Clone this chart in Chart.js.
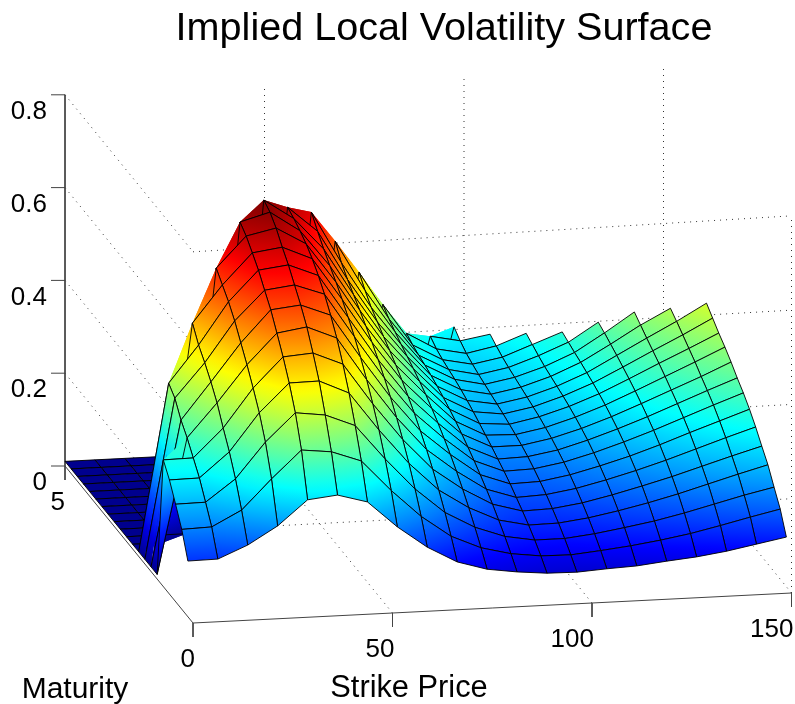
<!DOCTYPE html>
<html>
<head>
<meta charset="utf-8">
<title>Implied Local Volatility Surface</title>
<script src="https://cdn.jsdelivr.net/npm/chart.js@4/dist/chart.umd.min.js"></script>
<style>
  html, body { margin: 0; padding: 0; background: #fff; }
  canvas { display: block; }
</style>
</head>
<body>
<canvas id="surface" width="795" height="704"></canvas>
<script>
const strikes = [0, 7.5, 15, 22.5, 30, 37.5, 45, 52.5, 60, 67.5, 75, 82.5, 90, 97.5, 105, 112.5, 120, 127.5, 135, 142.5, 150];
const maturities = [0.2, 0.44, 0.68, 0.92, 1.16, 1.4, 1.64, 1.88, 2.12, 2.36, 2.6, 2.84, 3.08, 3.32, 3.56, 3.8, 4.04, 4.28, 4.52, 4.76, 5];

// one list per strike, front row (short maturity) first, null = no quote
const vol0 = [.120, .172, .210, .246, .273, .01, .01, .01, .01, .01, .01, .01, .01, .01, .01, .01, .01, .01, .01, .01, .01];
const vol1 = [.121, .174, .211, .247, .274, .301, .323, .354, .370, .01, .01, .01, .01, .01, .01, .01, .01, .01, .01, .01, .01];
const vol2 = [.148, .207, .258, .300, .335, .373, .402, .427, .449, .480, .01, .01, .01, .01, .01, .01, .01, .01, .01, .01, .01];
const vol3 = [.186, .271, .334, .381, .418, .452, .483, .514, .539, .559, .579, .01, .01, .01, .01, .01, .01, .01, .01, .01, .01];
const vol4 = [.239, .330, .394, .442, .482, .517, .551, .577, .604, .625, .645, .659, .01, .01, .01, .01, .01, .01, .01, .01, .01];
const vol5 = [.246, .323, .386, .443, .487, .527, .558, .585, .612, .634, .659, .677, .687, .01, .01, .01, .01, .01, .01, .01, .01];
const vol6 = [.228, .300, .360, .414, .460, .500, .533, .562, .586, .606, .622, .634, .644, .652, .01, .01, .01, .01, .01, .01, .01];
const vol7 = [.171, .233, .285, .331, .371, .407, .439, .467, .492, .515, .536, .555, .575, .597, .622, .01, .01, .01, .01, .01, .01];
const vol8 = [.124, .174, .217, .256, .291, .322, .350, .375, .398, .419, .438, .456, .473, .490, .510, .540, .01, .01, .01, .01, .01];
const vol9 = [.089, .128, .163, .195, .224, .250, .274, .296, .316, .334, .351, .366, .380, .395, .410, .430, .454, .01, .01, .01, .01];
const vol10 = [.070, .100, .128, .154, .178, .200, .220, .238, .255, .270, .284, .296, .307, .317, .327, .338, .350, .365, .01, .01, .01];
const vol11 = [.061, .084, .105, .124, .142, .158, .173, .187, .200, .212, .223, .233, .242, .250, .257, .263, .268, .274, .283, .01, .01];
const vol12 = [.055, .076, .094, .110, .124, .137, .150, .161, .171, .181, .190, .199, .208, .216, .223, .229, .234, .239, .246, .257, .01];
const vol13 = [.054, .075, .094, .111, .126, .140, .152, .163, .173, .181, .188, .194, .200, .205, .210, .215, .220, .226, .233, .244, .258];
const vol14 = [.058, .081, .101, .119, .135, .150, .163, .174, .184, .193, .200, .207, .212, .217, .222, .227, .232, .238, .246, .255, null];
const vol15 = [.061, .088, .111, .131, .149, .165, .179, .191, .202, .211, .219, .226, .232, .237, .242, .247, .254, .262, .270, null, null];
const vol16 = [.068, .097, .122, .145, .165, .182, .197, .211, .223, .233, .242, .250, .257, .263, .269, .274, .280, .286, null, null, null];
const vol17 = [.074, .108, .136, .161, .182, .201, .218, .233, .246, .258, .269, .279, .288, .297, .305, .313, .320, null, null, null, null];
const vol18 = [.083, .122, .152, .179, .201, .222, .241, .257, .271, .284, .297, .309, .320, .331, .343, .355, null, null, null, null, null];
const vol19 = [.095, .137, .168, .197, .220, .243, .263, .281, .296, .310, .325, .338, .351, .364, .376, null, null, null, null, null, null];
const vol20 = [.107, .151, .182, .214, .238, .263, .285, .304, .320, .338, .354, .368, .384, .400, null, null, null, null, null, null, null];
const volByStrike = [vol0, vol1, vol2, vol3, vol4, vol5, vol6, vol7, vol8, vol9, vol10, vol11, vol12, vol13, vol14, vol15, vol16, vol17, vol18, vol19, vol20];

const strikeTicks = [0, 50, 100, 150];
const volTicks = [0.8, 0.6, 0.4, 0.2, 0];
const maxMaturity = 5;
const volTop = 0.8;
const floorVol = 0.01;
const colorMax = 0.687;

// view of the box: strike runs right, maturity runs back and left, vol runs up
function project(strike, maturity, vol) {
  const back = maxMaturity - maturity;
  return {
    x: 65 + 3.99 * strike + 25.6 * back,
    y: 466 - 0.2 * strike + 31.4 * back - 464 * vol,
  };
}

function jet(t) {
  t = Math.max(0, Math.min(1, t));
  const ramp = c => Math.round(255 * Math.max(0, Math.min(1, 1.5 - Math.abs(4 * t - c))));
  return `rgb(${ramp(3)},${ramp(2)},${ramp(1)})`;
}

function line(points, extra) {
  return {
    data: points,
    fill: false,
    borderColor: '#333',
    borderWidth: 1,
    pointRadius: 0,
    tension: 0,
    ...extra,
  };
}

const dotted = { borderColor: '#333', borderDash: [1, 5] };
// the far right corner of the box sits slightly higher than the left one
const rightWallRise = 1.016;

function gridDatasets() {
  const sets = [];
  [0.2, 0.4, 0.6, 0.8].forEach(v => {
    sets.push(line([project(0, maxMaturity, v), project(0, 0, v)], dotted));
    sets.push(line([project(0, 0, v), project(150, 0, v * rightWallRise)], dotted));
  });
  [50, 100, 150].forEach(k => {
    sets.push(line([project(k, maxMaturity, 0), project(k, maxMaturity, volTop)], dotted));
    sets.push(line([project(k, 0, 0), project(k, maxMaturity, 0)], dotted));
  });
  sets.push(line([project(150, 0, 0), project(150, 0, volTop * rightWallRise)], dotted));
  return sets;
}

function axisDatasets() {
  const solid = { borderColor: '#444' };
  const sets = [
    line([project(0, maxMaturity, volTop), project(0, maxMaturity, 0)], solid),
    line([project(0, maxMaturity, 0), project(0, 0, 0)], solid),
    line([project(0, 0, 0), project(150, 0, 0)], solid),
  ];
  volTicks.forEach(v => {
    const p = project(0, maxMaturity, v);
    sets.push(line([p, { x: p.x - 14, y: p.y }], solid));
  });
  const corner = project(0, maxMaturity, 0);
  sets.push(line([corner, { x: corner.x, y: corner.y + 14 }], solid));
  strikeTicks.forEach(k => {
    const p = project(k, 0, 0);
    sets.push(line([p, { x: p.x, y: p.y + 14 }], solid));
  });
  return sets;
}

// colour each facet with a gradient laid along its steepest direction
function facetFill(pts, vols) {
  const n = pts.length;
  const meanV = vols.reduce((a, b) => a + b) / n;
  const meanX = pts.reduce((a, p) => a + p.x, 0) / n;
  const meanY = pts.reduce((a, p) => a + p.y, 0) / n;
  let sxx = 0, syy = 0, sxy = 0, sxv = 0, syv = 0;
  pts.forEach((p, i) => {
    const dx = p.x - meanX, dy = p.y - meanY, dv = vols[i] - meanV;
    sxx += dx * dx; syy += dy * dy; sxy += dx * dy; sxv += dx * dv; syv += dy * dv;
  });
  const det = sxx * syy - sxy * sxy;
  const gx = det ? (sxv * syy - syv * sxy) / det : 0;
  const gy = det ? (syv * sxx - sxv * sxy) / det : 0;
  const g2 = gx * gx + gy * gy;
  const lo = Math.min(...vols), hi = Math.max(...vols);
  return ctx => {
    const { x, y } = ctx.chart.scales;
    if (!x || !y || g2 < 1e-12 || hi - lo < 1e-4) return jet(meanV / colorMax);
    const a = (lo - meanV) / g2, b = (hi - meanV) / g2;
    const ends = [
      x.getPixelForValue(meanX + gx * a), y.getPixelForValue(meanY + gy * a),
      x.getPixelForValue(meanX + gx * b), y.getPixelForValue(meanY + gy * b),
    ];
    // scales are not laid out yet on the first resolve
    if (!ends.every(Number.isFinite)) return jet(meanV / colorMax);
    const grad = ctx.chart.ctx.createLinearGradient(...ends);
    for (let s = 0; s <= 6; s++) {
      grad.addColorStop(s / 6, jet((lo + (hi - lo) * s / 6) / colorMax));
    }
    return grad;
  };
}

function filledFacet(pts, vols) {
  return line([...pts, pts[0]], {
    fill: 'shape',
    backgroundColor: facetFill(pts, vols),
    borderWidth: 0,
  });
}

function surfaceDatasets() {
  const sets = [];
  const edge = { borderColor: 'rgba(0,0,0,0.9)', borderWidth: 1 };
  // back row first, right to left, so nearer facets cover farther ones
  for (let r = maturities.length - 2; r >= 0; r--) {
    for (let j = strikes.length - 2; j >= 0; j--) {
      const corners = [[j, r], [j + 1, r], [j + 1, r + 1], [j, r + 1]];
      const vols = corners.map(([a, b]) => volByStrike[a][b]);
      if (vols.some(v => v === null)) continue;
      const pts = corners.map(([a, b], i) => project(strikes[a], maturities[b], vols[i]));
      const onFloor = vols.filter(v => v === floorVol).length;
      if (onFloor > 0 && onFloor < 4) {
        // facets that drop to the floor fold along one diagonal
        sets.push(filledFacet([pts[0], pts[2], pts[3]], [vols[0], vols[2], vols[3]]));
        sets.push(filledFacet([pts[0], pts[1], pts[2]], [vols[0], vols[1], vols[2]]));
      } else {
        sets.push(filledFacet(pts, vols));
      }
      sets.push(line([...pts, pts[0]], edge));
    }
  }
  return sets;
}

const textFont = '"Liberation Sans", Arial, sans-serif';

const axisText = {
  id: 'axisText',
  afterDraw(chart) {
    const { ctx, scales } = chart;
    const put = (str, p, size, align) => {
      ctx.font = `${size}px ${textFont}`;
      ctx.textAlign = align;
      ctx.textBaseline = 'middle';
      ctx.fillStyle = '#000';
      ctx.fillText(str, scales.x.getPixelForValue(p.x), scales.y.getPixelForValue(p.y));
    };
    ctx.save();
    put('Implied Local Volatility Surface', { x: 444, y: 29 }, 39.6, 'center');
    volTicks.forEach(v => {
      const p = project(0, maxMaturity, v);
      put(String(v), { x: p.x - 18, y: p.y + 17 }, 26, 'right');
    });
    put('5', { x: 65, y: 503 }, 26, 'right');
    strikeTicks.forEach(k => {
      const p = project(k, 0, 0);
      put(String(k), { x: p.x + 2, y: p.y + 36.5 }, 26, 'right');
    });
    put('Maturity', { x: 75, y: 690 }, 30, 'center');
    put('Strike Price', { x: 409, y: 689 }, 30.8, 'center');
    ctx.restore();
  },
};

// lowest order is drawn last
const painted = [...gridDatasets(), ...axisDatasets(), ...surfaceDatasets()];
painted.forEach((d, i) => { d.order = painted.length - i; });

new Chart(document.getElementById('surface'), {
  type: 'line',
  data: { datasets: painted },
  options: {
    responsive: false,
    animation: false,
    events: [],
    layout: { padding: 0 },
    scales: {
      x: { type: 'linear', display: false, min: 0, max: 795 },
      y: { type: 'linear', display: false, min: 0, max: 704, reverse: true },
    },
    plugins: { legend: { display: false }, tooltip: { enabled: false } },
  },
  plugins: [axisText],
});
</script>
</body>
</html>
